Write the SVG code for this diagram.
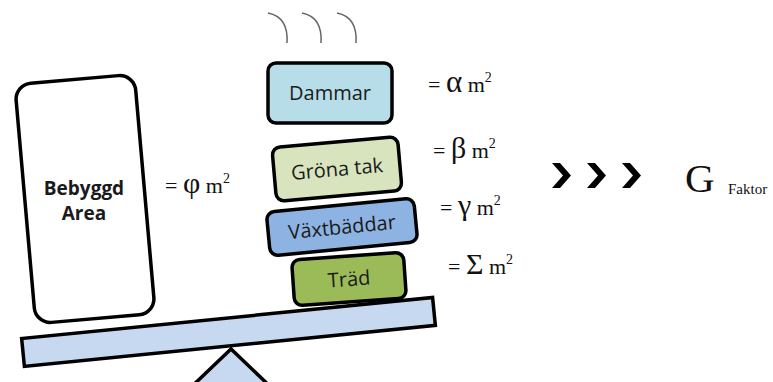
<svg xmlns="http://www.w3.org/2000/svg" width="773" height="382" viewBox="0 0 773 382">
<style>
.box{stroke:#000;stroke-width:3.5;}
.lbl{font-family:"Open Sans","Noto Sans",sans-serif;font-size:20px;fill:#1a1a1a;text-anchor:middle;}
.bold{font-family:"Open Sans","Noto Sans",sans-serif;font-size:19px;font-weight:bold;fill:#1a1a1a;text-anchor:middle;}
.eq{font-family:"Liberation Serif","Times New Roman",serif;fill:#111;}
.steam{fill:none;stroke:#666;stroke-width:1.5;}
.chev{fill:#000;}
</style>
<rect width="773" height="382" fill="#fff"/>
<g id="fulcrum">
<polygon points="231,349 186,392 276,392" fill="#C6D9F1" stroke="#000" stroke-width="3.5"/>
</g>
<g id="beam">
<rect x="22" y="318" width="413" height="28" fill="#C6D9F1" stroke="#000" stroke-width="3.5" transform="rotate(-5.7 228 332)"/>
</g>
<g id="bebyggd">
<rect class="box" x="25" y="79" width="120" height="240" rx="16" fill="#fff" transform="rotate(-5 85 199)"/>
<text class="bold" x="84" y="195">Bebyggd</text>
<text class="bold" x="84" y="220">Area</text>
</g>
<g id="steam">
<path class="steam" d="M268,13 C283,16 288,28 287,43"/>
<path class="steam" d="M302,13 C317,16 322,28 321,43"/>
<path class="steam" d="M337,13 C352,16 357,28 356,43"/>
</g>
<g id="dammar">
<rect class="box" x="268" y="63" width="124" height="60" rx="8" fill="#B7DDE8"/>
<text class="lbl" x="330" y="100">Dammar</text>
</g>
<g id="grona-tak">
<g transform="rotate(-5 337 169)">
<rect class="box" x="274" y="142" width="126" height="54" rx="8" fill="#D7E4BD"/>
<text class="lbl" x="337" y="176">Gröna tak</text>
</g>
</g>
<g id="vaxtbaddar">
<g transform="rotate(-5.5 342 227)">
<rect class="box" x="268" y="205" width="148" height="44" rx="8" fill="#8DB3E2"/>
<text class="lbl" x="342" y="234">Växtbäddar</text>
</g>
</g>
<g id="trad">
<g transform="rotate(-4 349 279)">
<rect class="box" x="293" y="256" width="112" height="46" rx="8" fill="#9BBB59"/>
<text class="lbl" x="349" y="286">Träd</text>
</g>
</g>
<g id="equations">
<text class="eq" x="165" y="193" font-size="22">= <tspan font-size="30">φ</tspan> m<tspan font-size="14" dy="-10">2</tspan></text>
<text class="eq" x="428" y="92" font-size="22">= <tspan font-size="31">α</tspan> m<tspan font-size="14" dy="-10">2</tspan></text>
<text class="eq" x="433" y="158" font-size="22">= <tspan font-size="30">β</tspan> m<tspan font-size="14" dy="-10">2</tspan></text>
<text class="eq" x="440" y="215" font-size="22">= <tspan font-size="30">γ</tspan> m<tspan font-size="14" dy="-10">2</tspan></text>
<text class="eq" x="448" y="274" font-size="22">= <tspan font-size="30">Σ</tspan> m<tspan font-size="14" dy="-10">2</tspan></text>
</g>
<g id="result">
<polygon class="chev" points="552,163 560,163 571,175.5 560,188 552,188 563,175.5"/>
<polygon class="chev" points="587,163 595,163 606,175.5 595,188 587,188 598,175.5"/>
<polygon class="chev" points="622,163 630,163 641,175.5 630,188 622,188 633,175.5"/>
<text class="eq" x="685" y="192" font-size="41">G</text>
<text class="eq" x="728" y="194" font-size="15">Faktor</text>
</g>
</svg>
